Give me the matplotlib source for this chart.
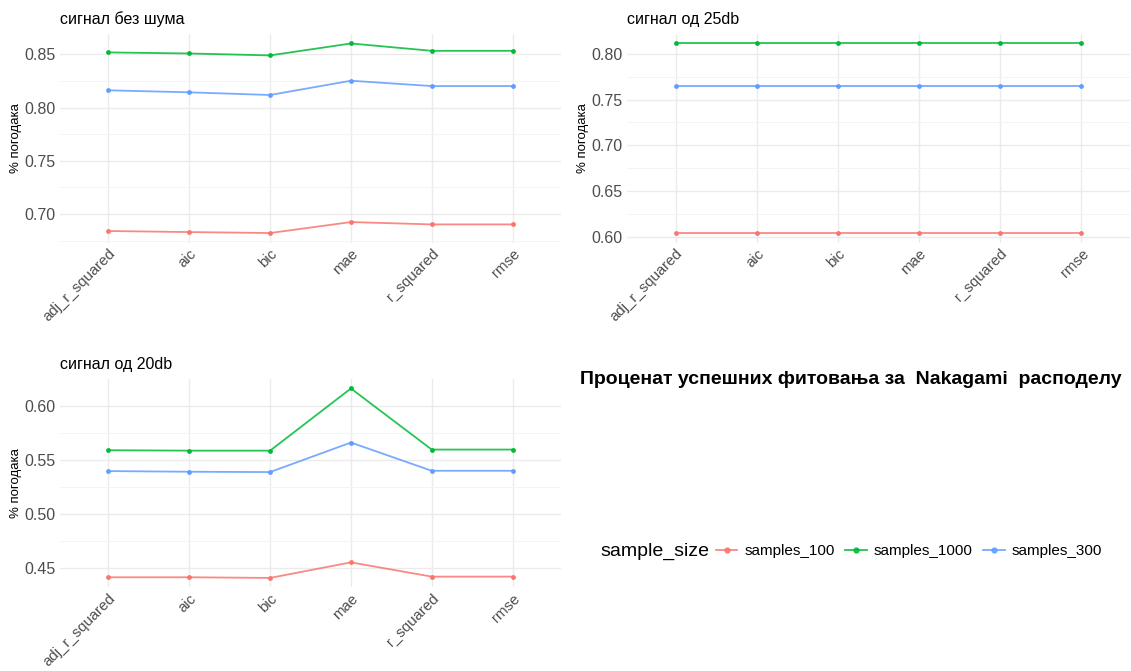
import matplotlib
matplotlib.use("Agg")
import matplotlib.pyplot as plt
from matplotlib.lines import Line2D
from matplotlib.ticker import MultipleLocator

plt.rcParams['font.family'] = ['Liberation Sans', 'DejaVu Sans']

metrics = ['adj_r_squared', 'aic', 'bic', 'mae', 'r_squared', 'rmse']
sizes = ['samples_100', 'samples_1000', 'samples_300']
colors = {'samples_100': '#F8766D', 'samples_1000': '#00BA38', 'samples_300': '#619CFF'}

# % hits per metric, no noise
clean_100 = [0.6841, 0.6831, 0.6822, 0.6925, 0.6903, 0.6903]
clean_1000 = [0.8519, 0.8509, 0.8491, 0.8603, 0.8534, 0.8534]
clean_300 = [0.8163, 0.8144, 0.8119, 0.8253, 0.8203, 0.8203]

# 25 dB
db25_100 = [0.6043, 0.6043, 0.6043, 0.6043, 0.6043, 0.6043]
db25_1000 = [0.8112, 0.8112, 0.8112, 0.8112, 0.8112, 0.8112]
db25_300 = [0.7652, 0.7652, 0.7652, 0.7652, 0.7652, 0.7652]

# 20 dB
db20_100 = [0.4414, 0.4414, 0.4408, 0.4552, 0.4420, 0.4420]
db20_1000 = [0.5589, 0.5585, 0.5585, 0.6160, 0.5595, 0.5595]
db20_300 = [0.5396, 0.5390, 0.5387, 0.5660, 0.5399, 0.5399]

panels = [
    ('сигнал без шума', [clean_100, clean_1000, clean_300]),
    ('сигнал од 25db', [db25_100, db25_1000, db25_300]),
    ('сигнал од 20db', [db20_100, db20_1000, db20_300]),
]

W, H = 1131, 671
fig = plt.figure(figsize=(W / 100, H / 100), dpi=100)


def box(x0, y0, x1, y1):
    return [x0 / W, 1 - y1 / H, (x1 - x0) / W, (y1 - y0) / H]


rects = [box(60, 34, 561, 242.5), box(627, 34, 1130, 242.5), box(60, 379, 561, 587.4)]

for rect, (title, series) in zip(rects, panels):
    ax = fig.add_axes(rect)
    xs = range(len(metrics))
    for name, vals in zip(sizes, series):
        ax.plot(xs, vals, color=colors[name], lw=1.3, alpha=0.85, zorder=3)
        ax.scatter(xs, vals, color=colors[name], s=12, zorder=4, linewidths=0)
    lo = min(min(s) for s in series)
    hi = max(max(s) for s in series)
    pad = (hi - lo) * 0.05
    ax.set_ylim(lo - pad, hi + pad)
    ax.set_xlim(-0.6, len(metrics) - 0.4)
    ax.yaxis.set_major_locator(MultipleLocator(0.05))
    ax.yaxis.set_minor_locator(MultipleLocator(0.025))
    ax.yaxis.set_major_formatter(lambda v, p: f'{v:.2f}')
    ax.set_xticks(list(xs))
    ax.set_xticklabels(metrics, rotation=45, ha='right', rotation_mode='anchor')
    ax.grid(True, which='major', color='#EBEBEB', lw=1.0)
    ax.grid(True, which='minor', axis='y', color='#F4F4F4', lw=0.7)
    ax.set_axisbelow(True)
    for s in ax.spines.values():
        s.set_visible(False)
    ax.tick_params(which='both', length=0, labelsize=11.5, labelcolor='#4D4D4D', pad=3)
    ax.tick_params(axis='x', labelsize=10.8, pad=3)
    ax.set_ylabel('% погодака', fontsize=9.5, labelpad=2)
    ax.set_title(title, loc='left', fontsize=11.5, pad=7)

fig.text(851 / W, 1 - 380 / H, 'Проценат успешних фитовања за  Nakagami  расподелу',
         ha='center', va='center', fontsize=14, fontweight='bold')

handles = [Line2D([0], [0], color=colors[n], lw=1.3, marker='o', markersize=3.5, alpha=0.85)
           for n in sizes]
fig.text(600 / W, 1 - 551 / H, 'sample_size', ha='left', va='center', fontsize=14)
fig.legend(handles, sizes, loc='center left', bbox_to_anchor=(716 / W, 1 - 551 / H),
           ncol=3, frameon=False, fontsize=11, handlelength=1.4, handletextpad=0.45,
           columnspacing=0.7, borderpad=0, borderaxespad=0)

fig.savefig('out.png', dpi=100, facecolor='white')
